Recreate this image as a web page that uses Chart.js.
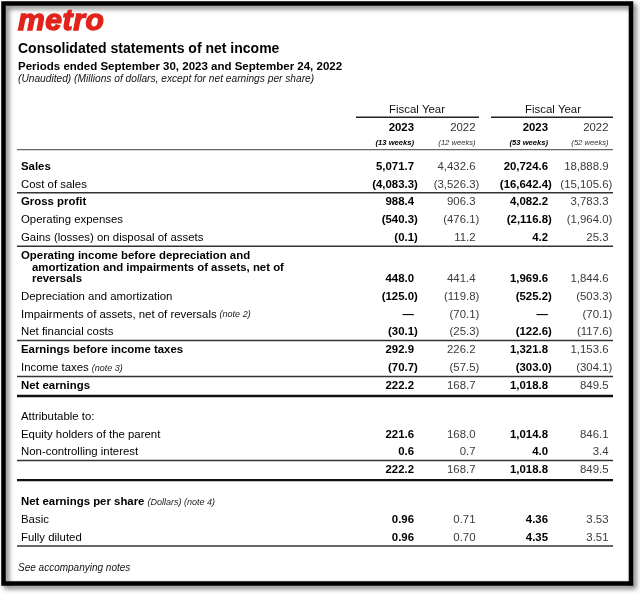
<!DOCTYPE html>
<html>
<head>
<meta charset="utf-8">
<title>Consolidated statements of net income</title>
<script src="https://cdn.jsdelivr.net/npm/chart.js@4.4.0/dist/chart.umd.min.js"></script>
<style>
  html, body { margin: 0; padding: 0; background: #fff; }
  canvas { display: block; }
</style>
</head>
<body>
<canvas id="statement" width="640" height="594"></canvas>
<script>
// Statement rows (Millions of dollars, EPS in dollars). 0 = nil (dash), null = no value
const rowLabels = [
    'Sales',
    'Cost of sales',
    'Gross profit',
    'Operating expenses',
    'Gains (losses) on disposal of assets',
    'Operating income before depreciation and\namortization and impairments of assets, net of\nreversals',
    'Depreciation and amortization',
    'Impairments of assets, net of reversals',
    'Net financial costs',
    'Earnings before income taxes',
    'Income taxes',
    'Net earnings',
    'Attributable to:',
    'Equity holders of the parent',
    'Non-controlling interest',
    '',
    'Net earnings per share',
    'Basic',
    'Fully diluted'
];
const rowNotes = ['', '', '', '', '', '', '', '(note 2)', '', '', '(note 3)', '', '', '', '', '', '(Dollars) (note 4)', '', ''];
const boldRows = [0, 2, 5, 9, 11, 16];
const perShareRows = [17, 18];

const q4_2023 = [5071.7, -4083.3, 988.4, -540.3, -0.1, 448.0, -125.0, 0, -30.1, 292.9, -70.7, 222.2, null, 221.6, 0.6, 222.2, null, 0.96, 0.96];
const q4_2022 = [4432.6, -3526.3, 906.3, -476.1, 11.2, 441.4, -119.8, -70.1, -25.3, 226.2, -57.5, 168.7, null, 168.0, 0.7, 168.7, null, 0.71, 0.70];
const fy_2023 = [20724.6, -16642.4, 4082.2, -2116.8, 4.2, 1969.6, -525.2, 0, -122.6, 1321.8, -303.0, 1018.8, null, 1014.8, 4.0, 1018.8, null, 4.36, 4.35];
const fy_2022 = [18888.9, -15105.6, 3783.3, -1964.0, 25.3, 1844.6, -503.3, -70.1, -117.6, 1153.6, -304.1, 849.5, null, 846.1, 3.4, 849.5, null, 3.53, 3.51];

const columnYears = ['2023', '2022', '2023', '2022'];
const columnWeeks = ['(13 weeks)', '(12 weeks)', '(53 weeks)', '(52 weeks)'];
const groupTitles = ['Fiscal Year', 'Fiscal Year'];

// layout (row units on y, page units on x)
const ROW_PX = 17.8;
const FIRST_ROW_PX = 166.7;
const rowPos = [0, 1, 2, 3, 4, 6.31, 7.3, 8.3, 9.3, 10.31, 11.31, 12.31, 14.05, 15.04, 16.04, 17.04, 18.85, 19.85, 20.84];
const thinRuleAfter = [1, 4, 8, 10, 14, 18];
const thickRuleAfter = [11, 15];
const colRight = [414, 475.5, 548, 608.5];
const groupCenter = [417, 553];
const groupRule = [[356, 479], [491, 613]];
const FONT = '"Liberation Sans", Arial, Helvetica, sans-serif';
const BODY = '11.4px ';

function fmt(v, d) {
    if (v === null) return '';
    if (v === 0) return '\u2014';
    const s = Math.abs(v).toLocaleString('en-US', { minimumFractionDigits: d, maximumFractionDigits: d });
    return v < 0 ? '(' + s + ')' : s;
}

const statementPlugin = {
    id: 'statement',
    beforeDraw(chart) {
        const ctx = chart.ctx;
        ctx.save();
        ctx.fillStyle = '#fff';
        ctx.fillRect(0, 0, chart.width, chart.height);
        // framed box with drop shadow
        ctx.shadowColor = 'rgba(0,0,0,0.55)';
        ctx.shadowBlur = 5;
        ctx.shadowOffsetX = 3;
        ctx.shadowOffsetY = 3;
        ctx.strokeStyle = '#000';
        ctx.lineWidth = 4.5;
        ctx.strokeRect(3.5, 3.5, 627.5, 580);
        ctx.restore();
    },
    afterDraw(chart) {
        const ctx = chart.ctx;
        const x = v => chart.scales.x.getPixelForValue(v);
        const y = v => chart.scales.y.getPixelForValue(v);
        const rule = (u, w, color, x0, x1) => {
            ctx.beginPath();
            ctx.strokeStyle = color;
            ctx.lineWidth = w;
            ctx.moveTo(x(x0), y(u));
            ctx.lineTo(x(x1), y(u));
            ctx.stroke();
        };
        ctx.save();

        // logo
        ctx.textBaseline = 'alphabetic';
        ctx.textAlign = 'left';
        ctx.font = 'italic bold 30px ' + FONT;
        ctx.letterSpacing = '0.6px';
        ctx.fillStyle = '#e2231a';
        ctx.strokeStyle = '#e2231a';
        ctx.lineWidth = 1.4;
        ctx.fillText('metro', x(18), y(-7.7));
        ctx.strokeText('metro', x(18), y(-7.7));
        ctx.letterSpacing = '0px';

        // headings
        ctx.textBaseline = 'middle';
        ctx.fillStyle = '#000';
        ctx.font = 'bold 14px ' + FONT;
        ctx.fillText('Consolidated statements of net income', x(18), y(-6.61));
        ctx.font = 'bold 11.5px ' + FONT;
        ctx.fillText('Periods ended September 30, 2023 and September 24, 2022', x(18), y(-5.63));
        ctx.font = 'italic 10.2px ' + FONT;
        ctx.fillStyle = '#111';
        ctx.fillText('(Unaudited) (Millions of dollars, except for net earnings per share)', x(18), y(-4.9));

        // column headers
        ctx.fillStyle = '#111';
        ctx.font = BODY + FONT;
        ctx.textAlign = 'center';
        groupTitles.forEach((t, i) => ctx.fillText(t, x(groupCenter[i]), y(-3.21)));
        groupRule.forEach(r => rule(-2.78, 1.5, '#222', r[0], r[1]));
        ctx.textAlign = 'right';
        columnYears.forEach((t, i) => {
            const bold = i % 2 === 0;
            ctx.font = (bold ? 'bold ' : '') + BODY + FONT;
            ctx.fillStyle = bold ? '#000' : '#333';
            ctx.fillText(t, x(colRight[i]), y(-2.2));
            ctx.font = 'italic ' + (bold ? 'bold ' : '') + '7.6px ' + FONT;
            ctx.fillText(columnWeeks[i], x(colRight[i]), y(-1.33));
        });
        rule(-0.955, 1.2, '#666', 17, 613);

        // rows
        const cols = [q4_2023, q4_2022, fy_2023, fy_2022];
        rowLabels.forEach((label, r) => {
            const bold = boldRows.includes(r);
            const lines = label.split('\n');
            ctx.textAlign = 'left';
            ctx.fillStyle = '#000';
            ctx.font = (bold ? 'bold ' : '') + BODY + FONT;
            let endX = 0;
            lines.forEach((ln, k) => {
                const u = rowPos[r] - (lines.length - 1 - k) * 0.645;
                const lx = k === 0 ? 21 : 32;
                ctx.fillText(ln, x(lx), y(u));
                endX = x(lx) + ctx.measureText(ln).width;
            });
            if (rowNotes[r]) {
                ctx.font = 'italic 9px ' + FONT;
                ctx.fillStyle = '#222';
                ctx.fillText(rowNotes[r], endX + 3, y(rowPos[r]) + 0.5);
            }
            const d = perShareRows.includes(r) ? 2 : 1;
            cols.forEach((vals, c) => {
                const v = vals[r];
                if (v === null) return;
                const strong = c % 2 === 0;
                ctx.font = (strong ? 'bold ' : '') + BODY + FONT;
                ctx.fillStyle = strong ? '#000' : '#3a3a3a';
                ctx.textAlign = 'right';
                const s = fmt(v, d);
                const hang = v < 0 ? ctx.measureText(')').width : 0;
                ctx.fillText(s, x(colRight[c]) + hang, y(rowPos[r]));
            });
        });
        thinRuleAfter.forEach(r => rule(rowPos[r] + 0.47, 1.5, '#333', 17, 613));
        thickRuleAfter.forEach(r => rule(rowPos[r] + 0.57, 2.4, '#111', 17, 613));

        ctx.textAlign = 'left';
        ctx.fillStyle = '#111';
        ctx.font = 'italic 10px ' + FONT;
        ctx.fillText('See accompanying notes', x(18), y(22.56));
        ctx.restore();
    }
};

new Chart(document.getElementById('statement'), {
    type: 'scatter',
    data: { datasets: [] },
    options: {
        responsive: false,
        animation: false,
        events: [],
        layout: { padding: 0 },
        plugins: {
            legend: { display: false },
            tooltip: { enabled: false }
        },
        scales: {
            x: { type: 'linear', display: false, min: 0, max: 640 },
            y: {
                type: 'linear',
                display: false,
                reverse: true,
                min: -FIRST_ROW_PX / ROW_PX,
                max: (594 - FIRST_ROW_PX) / ROW_PX
            }
        }
    },
    plugins: [statementPlugin]
});
</script>
</body>
</html>
